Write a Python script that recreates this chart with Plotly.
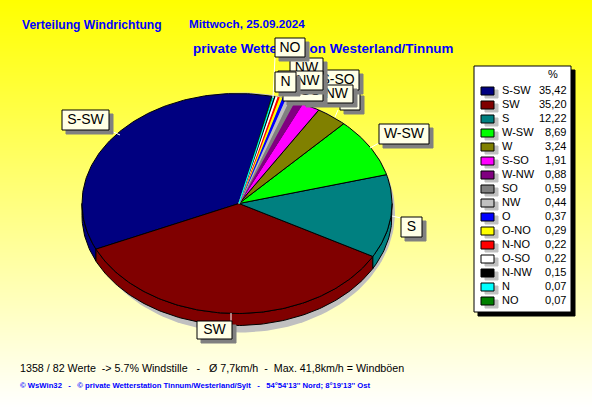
import math
import plotly.graph_objects as go

# ---- data ----
directions = ["S-SW","SW","S","W-SW","W","S-SO","W-NW","SO","NW","O","O-NO","N-NO","O-SO","N-NW","N","NO"]
percent = [35.42,35.20,12.22,8.69,3.24,1.91,0.88,0.59,0.44,0.37,0.29,0.22,0.22,0.15,0.07,0.07]
percent_labels = ["35,42","35,20","12,22","8,69","3,24","1,91","0,88","0,59","0,44","0,37","0,29","0,22","0,22","0,15","0,07","0,07"]
colors = ["#000080","#800000","#008080","#00FF00","#808000","#FF00FF","#800080","#808080",
          "#C0C0C0","#0000FF","#FFFF00","#FF0000","#FFFFFF","#000000","#00FFFF","#008000"]
title_1a = "Verteilung Windrichtung"
title_1b = "Mittwoch, 25.09.2024"
title_2 = "private Wetterstation Westerland/Tinnum"
stats = "1358 / 82 Werte\u00a0\u00a0-> 5.7% Windstille\u00a0\u00a0\u00a0-\u00a0\u00a0\u00a0Ø 7,7km/h\u00a0\u00a0-\u00a0\u00a0Max. 41,8km/h = Windböen"
credit = "© WsWin32\u00a0\u00a0\u00a0-\u00a0\u00a0\u00a0© private Wetterstation Tinnum/Westerland/Sylt\u00a0\u00a0\u00a0-\u00a0\u00a0\u00a054°54'13'' Nord; 8°19'13'' Ost"

# ---- geometry ----
W, H = 592, 407
CX, CY, RX, RY, DEPTH = 237, 203.5, 155, 110, 12
START = 77
# callout boxes (x0, x1, y0, y1) in drawing order
boxes = {"S-SW":(62,109,110,130),"SW":(197,232,321,339),"S":(401,422,217,237),"W-SW":(379,429,124,144),
         "W":(340,360,92,110),"S-SO":(316,359,70,90),"W-NW":(302,353,85,103),"SO":(290,320,74,92),
         "NW":(290,323,58,77),"O":(292,312,76,92),"O-NO":(284,322,76,94),"N-NO":(284,322,78,96),
         "O-SO":(283,323,81,101),"N-NW":(278,323,71,90),"N":(275,296,72,92),"NO":(275,305,38,57)}
leaders = [((109,130),(120,135)),((231,313),(231,321)),((392,216),(401,218)),((370,148),(379,143)),
           ((335,117),(338,110)),((273,98),(275,57))]
SHADOW = 4

fig = go.Figure()

def poly(xs, ys, fill, line="black", lw=1):
    fig.add_trace(go.Scatter(x=xs, y=ys, mode="lines", fill="toself", fillcolor=fill,
                             line=dict(color=line if line else fill, width=lw), hoverinfo="skip"))

def text(x, y, s, size, color="black", pos="middle right", fam="Liberation Sans"):
    fig.add_trace(go.Scatter(x=[x], y=[y], mode="text", text=[s], textposition=pos,
                             textfont=dict(family=fam, size=size, color=color), hoverinfo="skip"))

def rect(x0, x1, y0, y1, fill, line="black", lw=1):
    poly([x0,x1,x1,x0,x0],[y0,y0,y1,y1,y0],fill,line,lw)

# background gradient
ys = list(range(0, H+1))
fig.add_trace(go.Heatmap(x=[0, W], y=ys, z=[[v, v] for v in ys], zmin=0, zmax=H, zsmooth="best",
                         colorscale=[[0,"#FFFF00"],[1,"#FFFFFF"]], showscale=False, hoverinfo="skip"))

text(22, 25.5, "<b>%s</b>" % title_1a, 12.1, "#0000FF")
text(189, 25.5, "<b>%s</b>" % title_1b, 11.7, "#0000FF")
text(193, 49.5, "<b>%s</b>" % title_2, 13.4, "#0000FF")

def pt(deg, dy=0):
    a = math.radians(deg)
    return CX + RX*math.cos(a), CY - RY*math.sin(a) + dy

# drop shadow of the pie
sh = [pt(d) for d in range(0, 361, 2)]
poly([p[0]+3 for p in sh], [212.5-(120/110)*(CY-p[1]) for p in sh], "#C0C0C0", None, 0)

# slice angles from the values
angles, a = [], START
for v in percent:
    b = a + v*3.6
    angles.append((a, b))
    a = b

# side wall (only the front half of the rim is visible)
for (a0, b0), c in zip(angles, colors):
    lo, hi = max(a0, 180), min(b0, 360)
    if lo < hi:
        n = max(2, int(hi-lo)+1)
        arc = [lo + (hi-lo)*i/(n-1) for i in range(n)]
        top = [pt(d) for d in arc]
        bot = [pt(d, DEPTH) for d in reversed(arc)]
        poly([p[0] for p in top+bot]+[top[0][0]], [p[1] for p in top+bot]+[top[0][1]], c)

# top face: wide slices, then NO, then the narrow ones in order so N stays on top
last = len(percent) - 1
big_idx = [i for i in range(len(percent)) if percent[i] >= 1]
small_idx = [i for i in range(len(percent)) if percent[i] < 1 and i != last]
for i in big_idx + [last] + small_idx:
    a0, b0 = angles[i]
    c = colors[i]
    n = max(2, int(b0-a0)+1)
    arc = [pt(a0 + (b0-a0)*k/(n-1)) for k in range(n)]
    big = percent[i] >= 1
    poly([CX+2]+[p[0] for p in arc]+[CX+2], [CY]+[p[1] for p in arc]+[CY], c,
         "black" if big else c, 1 if big else 1.2)

# leaders
for (p, q) in leaders:
    fig.add_trace(go.Scatter(x=[p[0],q[0]], y=[p[1],q[1]], mode="lines",
                             line=dict(color="white", width=1), hoverinfo="skip"))

# callouts
for d in directions:
    x0,x1,y0,y1 = boxes[d]
    rect(x0+SHADOW,x1+SHADOW,y0+SHADOW,y1+SHADOW,"#808080","#808080")
    rect(x0,x1,y0,y1,"#FFFFE6")
    text((x0+x1)/2,(y0+y1)/2+0.5,d,14,"#000000","middle center")

# legend
LX0, LX1, LY0, LY1 = 474, 571, 66, 312
rect(LX0+4,LX1+4,LY0+4,LY1+4,"black")
rect(LX0,LX1,LY0,LY1,"white")
text(553,75,"%",11,"black","middle center")
for i,(d,lab,c) in enumerate(zip(directions,percent_labels,colors)):
    y = 91 + i*14
    rect(485,498,y-1,y+7,"#C0C0C0","#C0C0C0")
    rect(481,494,y-4,y+4,c)
    text(502,y+0.5,d,11)
    text(566.5,y+0.5,lab,11,"black","middle left")

text(20,369.5,stats,10.7)
text(20,386.5,"<b>%s</b>" % credit,7.7,"#0000FF")

fig.update_layout(width=W,height=H,margin=dict(l=0,r=0,t=0,b=0),showlegend=False,
                  plot_bgcolor="#FFFFFF",paper_bgcolor="#FFFFFF",hovermode=False,
                  xaxis=dict(range=[0,W],visible=False,fixedrange=True),
                  yaxis=dict(range=[H,0],visible=False,fixedrange=True))
fig.write_html("out.html",config=dict(displayModeBar=False),
               post_script="document.body.style.margin='0';")
